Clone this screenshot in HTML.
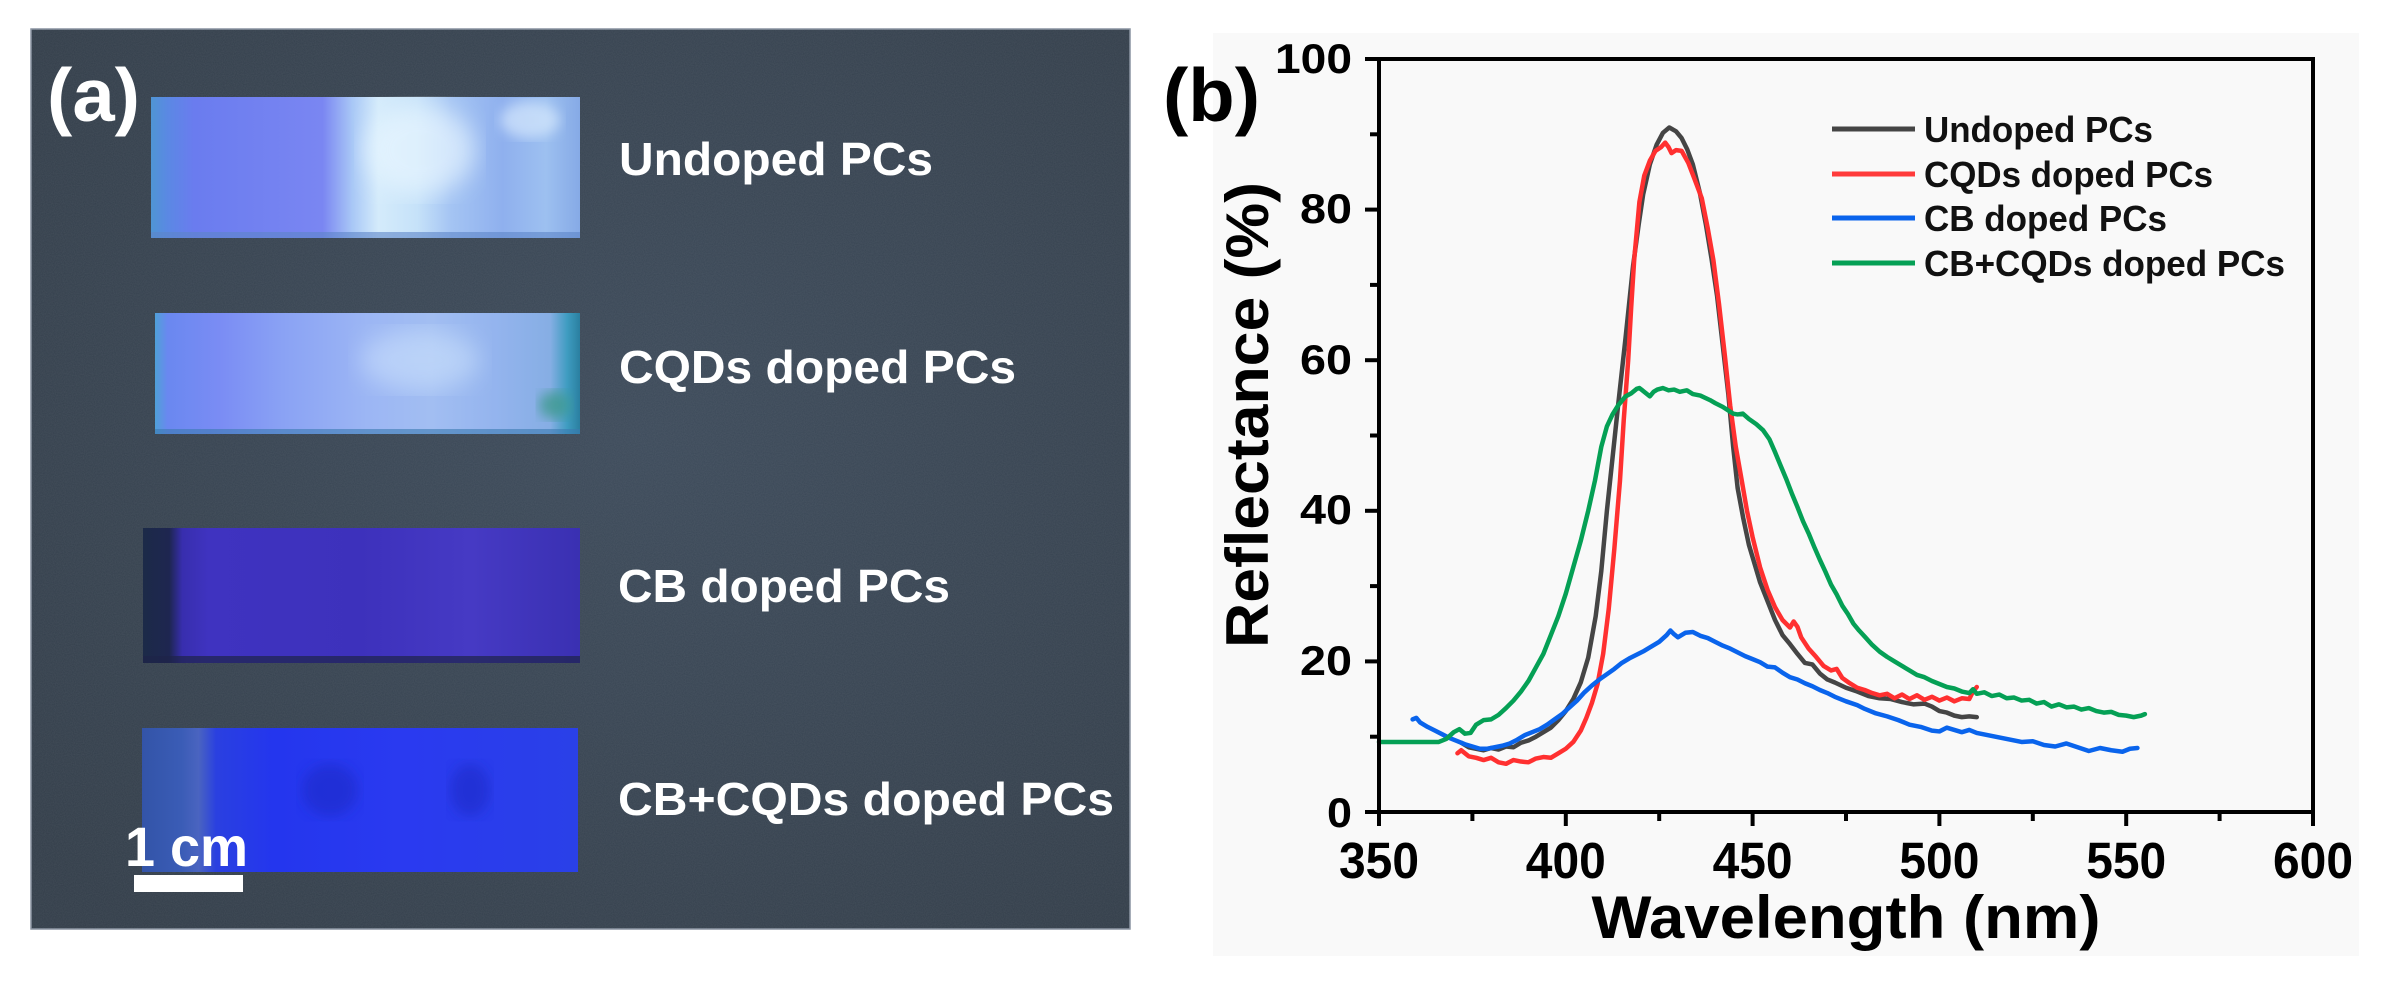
<!DOCTYPE html>
<html>
<head>
<meta charset="utf-8">
<style>
  html,body{margin:0;padding:0;background:#ffffff;}
  svg{display:block;}
  .b{font-family:"Liberation Sans",Arial,Helvetica,sans-serif;font-weight:bold;}
</style>
</head>
<body>
<svg width="2384" height="981" viewBox="0 0 2384 981" xmlns="http://www.w3.org/2000/svg">
  <defs>
    <radialGradient id="bg" cx="55%" cy="45%" r="70%">
      <stop offset="0%" stop-color="#3c4a5a"/>
      <stop offset="100%" stop-color="#323d49"/>
    </radialGradient>
    <filter id="noise" x="0" y="0" width="100%" height="100%">
      <feTurbulence type="fractalNoise" baseFrequency="0.9" numOctaves="2" seed="3" result="t"/>
      <feColorMatrix in="t" type="matrix" values="0 0 0 0 1  0 0 0 0 1  0 0 0 0 1  0 0 0 0.08 0"/>
    </filter>
    <filter id="blur6"><feGaussianBlur stdDeviation="6"/></filter>
    <filter id="blur12"><feGaussianBlur stdDeviation="12"/></filter>
    <linearGradient id="s1" x1="0" x2="1" y1="0" y2="0">
      <stop offset="0%" stop-color="#4f95d4"/>
      <stop offset="4%" stop-color="#5b88e4"/>
      <stop offset="10%" stop-color="#6a7cef"/>
      <stop offset="40%" stop-color="#7a86f2"/>
      <stop offset="47%" stop-color="#a9c8f6"/>
      <stop offset="53%" stop-color="#d4ebfb"/>
      <stop offset="62%" stop-color="#c6e2f9"/>
      <stop offset="70%" stop-color="#a4c4f3"/>
      <stop offset="82%" stop-color="#8fb0ee"/>
      <stop offset="92%" stop-color="#9dc0f0"/>
      <stop offset="100%" stop-color="#86aae6"/>
    </linearGradient>
    <linearGradient id="s2" x1="0" x2="1" y1="0" y2="0">
      <stop offset="0%" stop-color="#4fa0d8"/>
      <stop offset="3%" stop-color="#6a88f0"/>
      <stop offset="15%" stop-color="#7a8cf4"/>
      <stop offset="30%" stop-color="#8aa2f4"/>
      <stop offset="50%" stop-color="#9cb6f4"/>
      <stop offset="65%" stop-color="#a2bef2"/>
      <stop offset="80%" stop-color="#94b4ee"/>
      <stop offset="93%" stop-color="#86aee4"/>
      <stop offset="97%" stop-color="#3e9cc0"/>
      <stop offset="100%" stop-color="#2a7fa0"/>
    </linearGradient>
    <linearGradient id="s3" x1="0" x2="1" y1="0" y2="0">
      <stop offset="0%" stop-color="#1c2a48"/>
      <stop offset="6%" stop-color="#1e2650"/>
      <stop offset="9%" stop-color="#382eae"/>
      <stop offset="15%" stop-color="#3f33c0"/>
      <stop offset="50%" stop-color="#3d31bc"/>
      <stop offset="75%" stop-color="#463ac4"/>
      <stop offset="100%" stop-color="#3a30b2"/>
    </linearGradient>
    <linearGradient id="s4" x1="0" x2="1" y1="0" y2="0">
      <stop offset="0%" stop-color="#3354a8"/>
      <stop offset="9%" stop-color="#3a5cb6"/>
      <stop offset="13%" stop-color="#4a64c0"/>
      <stop offset="17%" stop-color="#2a40e0"/>
      <stop offset="30%" stop-color="#2436ee"/>
      <stop offset="60%" stop-color="#2a3af0"/>
      <stop offset="100%" stop-color="#2a40e8"/>
    </linearGradient>
  </defs>

  <!-- ================= Panel (a): photo ================= -->
  <rect x="31" y="29" width="1099" height="900" fill="url(#bg)" stroke="#8892a0" stroke-width="1.5"/>
  <rect x="31" y="29" width="1099" height="900" filter="url(#noise)"/>

  <!-- strip 1 -->
  <rect x="151" y="97" width="429" height="141" fill="url(#s1)"/>
  <ellipse cx="420" cy="150" rx="55" ry="45" fill="#e8f6ff" opacity="0.7" filter="url(#blur12)"/>
  <ellipse cx="530" cy="120" rx="30" ry="18" fill="#e0f0ff" opacity="0.6" filter="url(#blur6)"/>
  <rect x="151" y="232" width="429" height="6" fill="#5e86c8" opacity="0.6"/>
  <!-- strip 2 -->
  <rect x="155" y="313" width="425" height="121" fill="url(#s2)"/>
  <ellipse cx="420" cy="360" rx="60" ry="30" fill="#d8ecff" opacity="0.45" filter="url(#blur12)"/>
  <ellipse cx="555" cy="405" rx="16" ry="14" fill="#3d9a8e" opacity="0.8" filter="url(#blur6)"/>
  <rect x="155" y="429" width="425" height="5" fill="#3a7ab0" opacity="0.6"/>
  <!-- strip 3 -->
  <rect x="143" y="528" width="437" height="135" fill="url(#s3)"/>
  <rect x="143" y="656" width="437" height="7" fill="#1e2448" opacity="0.7"/>
  <!-- strip 4 -->
  <rect x="142" y="728" width="436" height="144" fill="url(#s4)"/>
  <ellipse cx="330" cy="790" rx="28" ry="26" fill="#1e2cc8" opacity="0.6" filter="url(#blur6)"/>
  <ellipse cx="470" cy="790" rx="20" ry="26" fill="#1e2cc8" opacity="0.6" filter="url(#blur6)"/>

  <!-- labels in photo -->
  <text class="b" x="47" y="121" font-size="75" fill="#ffffff" textLength="93" lengthAdjust="spacingAndGlyphs">(a)</text>
  <text class="b" x="619" y="175" font-size="46" fill="#ffffff" textLength="314" lengthAdjust="spacingAndGlyphs">Undoped PCs</text>
  <text class="b" x="619" y="383" font-size="46" fill="#ffffff" textLength="397" lengthAdjust="spacingAndGlyphs">CQDs doped PCs</text>
  <text class="b" x="618" y="602" font-size="46" fill="#ffffff" textLength="332" lengthAdjust="spacingAndGlyphs">CB doped PCs</text>
  <text class="b" x="618" y="815" font-size="46" fill="#ffffff" textLength="496" lengthAdjust="spacingAndGlyphs">CB+CQDs doped PCs</text>
  <text class="b" x="125" y="866" font-size="56" fill="#ffffff" textLength="123" lengthAdjust="spacingAndGlyphs">1 cm</text>
  <rect x="134" y="875" width="109" height="17" fill="#ffffff"/>

  <!-- ================= Panel (b): chart ================= -->
  <rect x="1213" y="33" width="1146" height="923" fill="#f9f9f9"/>
  <text class="b" x="1163" y="121" font-size="75" fill="#000" textLength="97" lengthAdjust="spacingAndGlyphs">(b)</text>

  <!-- curves (data coords: nm, %) -->
  <g transform="matrix(3.736,0,0,-7.53,71.4,812)" fill="none" stroke-linejoin="round" stroke-linecap="round">
    <polyline vector-effect="non-scaling-stroke" stroke="#454545" stroke-width="4.5" points="372,9.2 374,8.6 376,8.4 378,8.2 380,8.5 382,8.3 384,8.7 386,8.6 388,9.2 390,9.5 392,10 394,10.6 396,11.2 398,12.2 400,13.4 402,15 404,17.2 406,20.5 408,26 409.5,32 411,40 412.5,47 414,54 416,63 418,72.5 419.5,78 420.7,82 422.5,86 424.3,88.6 426,90.2 427.7,90.9 429.5,90.4 431,89.5 432.5,88 434,86 435.9,82.2 437.5,78 439,73.5 440.5,68.5 442,62 443.5,55.5 444.8,48.5 446,43 447.5,39 449,35.5 450.5,33 452,30.5 454,28 456,25.5 458,23.5 460,22.3 462,21 464,19.8 466,19.6 468,18.4 470,17.6 472,17.2 475,16.5 478,16 481,15.4 484,15.1 487,15 490,14.6 493,14.3 496,14.4 498,14 500,13.4 502,13.2 504,12.8 506,12.6 508,12.7 510,12.6"/>
    <polyline vector-effect="non-scaling-stroke" stroke="#ff3030" stroke-width="4.5" points="371,7.8 372,8.2 374,7.4 376,7.2 378,6.9 380,7.2 382,6.6 384,6.4 386,6.9 388,6.7 390,6.6 392,7.1 394,7.3 396,7.2 398,7.8 400,8.4 402,9.3 404,10.8 405.5,12.5 407,14.5 408.5,17 410,21 411.5,27 413,35 414.5,44 415.5,52 416.7,60 417.5,67 418.3,73.3 419.7,81 421,84.5 422.5,86.5 424,87.8 425.5,88.3 426.6,88.9 427.5,88.3 428.3,87.5 429.5,87.9 431,87.8 432.8,86.2 434.5,84 436.4,81.5 438,77.5 439.5,73.3 441,67.5 442.6,60.5 444,54 445.5,48.5 447.1,44 448.5,40 450,36.5 452,32.5 454,29.5 456,27.2 458,25.5 460,24.5 461,25.3 462,24.6 463,23.2 465,21.7 467,20.6 469,19.4 471,18.8 472.5,19 474,17.8 476,17.1 478,16.5 480,16.2 482,15.8 484,15.5 486,15.7 488,15.1 490,15.6 492,15 494,15.5 496,14.9 498,15.3 500,14.8 502,15.2 504,14.7 506,15.1 508,15 509,16 510,16.6"/>
    <polyline vector-effect="non-scaling-stroke" stroke="#0a64ec" stroke-width="4.5" points="359,12.3 360,12.5 361,11.9 363,11.3 365,10.8 367,10.3 369,9.8 371,9.4 373,9.0 375,8.7 377,8.4 379,8.4 381,8.6 383,8.8 385,9.1 387,9.6 389,10.2 391,10.6 393,11.0 395,11.6 397,12.3 399,13.0 401,13.9 403,14.8 405,15.9 407,16.8 409,17.6 411,18.3 413,19 415,19.8 417,20.4 419,20.9 421,21.4 423,22 425,22.6 427,23.5 428,24.1 429,23.6 430,23.2 432,23.8 434,23.9 436,23.4 438,23.1 440,22.6 442,22.1 444,21.7 446,21.2 448,20.7 450,20.3 452,19.9 454,19.3 456,19.2 458,18.5 460,17.9 462,17.6 464,17.1 466,16.7 468,16.2 470,15.8 472,15.3 475,14.7 478,14.2 480,13.7 483,13.1 486,12.7 489,12.2 492,11.6 495,11.3 498,10.8 500,10.7 502,11.2 504,10.9 506,10.6 508,10.9 510,10.5 513,10.2 516,9.9 519,9.6 522,9.3 525,9.4 528,8.9 531,8.7 534,9.1 537,8.6 540,8.1 543,8.5 546,8.2 549,8.0 551,8.4 553,8.5"/>
    <polyline vector-effect="non-scaling-stroke" stroke="#05a055" stroke-width="4.5" points="350,9.3 366,9.3 368,9.7 370,10.6 371.5,11 373,10.4 374.5,10.5 376,11.6 378,12.2 380,12.3 382,12.9 384,13.8 386,14.8 388,16 390,17.4 392,19.2 394,21 396,23.5 398,26 400,29 402,32.5 404,36 406,40 407.8,44 409.5,48.5 411,51.2 412.5,52.8 414,54 416,55.2 417.5,55.6 419,56.2 419.7,56.3 420.5,56 421.5,55.6 422.5,55.2 423.5,55.8 424.5,56.1 426,56.3 427.5,56 429,56.1 430.5,55.8 432.4,56 434,55.5 436,55.3 438.6,54.7 440,54.3 442,53.8 444.8,52.9 446,52.8 447.4,52.9 449,52.2 451,51.5 452.8,50.7 454.5,49.5 456,47.8 457.5,46 459.1,44.1 460.5,42.3 462,40.5 463.5,38.6 465,37 466.5,35.2 468,33.5 469.5,31.9 471,30.2 472.5,28.9 474,27.4 475.5,26.3 477,25 478.5,24.1 480,23.3 482,22.2 484,21.3 486,20.6 488,20 490,19.4 492,18.8 494,18.2 496,17.9 498,17.4 500,17 502,16.6 504,16.4 506,16 508,15.8 509,16.3 510,15.7 512,15.9 514,15.4 516,15.6 518,15.1 520,15.2 522,14.8 524,14.9 526,14.4 528,14.6 530,14 532,14.3 534,13.9 536,14 538,13.6 540,13.8 542,13.4 544,13.2 546,13.3 548,12.9 550,12.8 552,12.6 554,12.8 555,13"/>
  </g>

  <!-- axes box -->
  <rect x="1379" y="59" width="934" height="753" fill="none" stroke="#000" stroke-width="4"/>
  <g stroke="#000" stroke-width="4">
    <line x1="1365" y1="812" x2="1379" y2="812"/>
    <line x1="1365" y1="661.4" x2="1379" y2="661.4"/>
    <line x1="1365" y1="510.8" x2="1379" y2="510.8"/>
    <line x1="1365" y1="360.2" x2="1379" y2="360.2"/>
    <line x1="1365" y1="209.6" x2="1379" y2="209.6"/>
    <line x1="1365" y1="59" x2="1379" y2="59"/>
    <line x1="1370" y1="736.7" x2="1379" y2="736.7"/>
    <line x1="1370" y1="586.1" x2="1379" y2="586.1"/>
    <line x1="1370" y1="435.5" x2="1379" y2="435.5"/>
    <line x1="1370" y1="284.9" x2="1379" y2="284.9"/>
    <line x1="1370" y1="134.3" x2="1379" y2="134.3"/>
    <line x1="1379" y1="812" x2="1379" y2="826"/>
    <line x1="1565.8" y1="812" x2="1565.8" y2="826"/>
    <line x1="1752.6" y1="812" x2="1752.6" y2="826"/>
    <line x1="1939.4" y1="812" x2="1939.4" y2="826"/>
    <line x1="2126.2" y1="812" x2="2126.2" y2="826"/>
    <line x1="2313" y1="812" x2="2313" y2="826"/>
    <line x1="1472.4" y1="812" x2="1472.4" y2="821"/>
    <line x1="1659.2" y1="812" x2="1659.2" y2="821"/>
    <line x1="1846" y1="812" x2="1846" y2="821"/>
    <line x1="2032.8" y1="812" x2="2032.8" y2="821"/>
    <line x1="2219.6" y1="812" x2="2219.6" y2="821"/>
  </g>

  <g class="b" font-size="42" fill="#000" text-anchor="end">
    <text x="1352" y="827" textLength="25" lengthAdjust="spacingAndGlyphs">0</text>
    <text x="1352" y="675" textLength="52" lengthAdjust="spacingAndGlyphs">20</text>
    <text x="1352" y="524" textLength="52" lengthAdjust="spacingAndGlyphs">40</text>
    <text x="1352" y="374" textLength="52" lengthAdjust="spacingAndGlyphs">60</text>
    <text x="1352" y="223" textLength="52" lengthAdjust="spacingAndGlyphs">80</text>
    <text x="1352" y="73" textLength="77" lengthAdjust="spacingAndGlyphs">100</text>
  </g>
  <g class="b" font-size="51" fill="#000" text-anchor="middle">
    <text x="1379" y="878" textLength="80" lengthAdjust="spacingAndGlyphs">350</text>
    <text x="1565.8" y="878" textLength="80" lengthAdjust="spacingAndGlyphs">400</text>
    <text x="1752.6" y="878" textLength="80" lengthAdjust="spacingAndGlyphs">450</text>
    <text x="1939.4" y="878" textLength="80" lengthAdjust="spacingAndGlyphs">500</text>
    <text x="2126.2" y="878" textLength="80" lengthAdjust="spacingAndGlyphs">550</text>
    <text x="2313" y="878" textLength="80" lengthAdjust="spacingAndGlyphs">600</text>
  </g>

  <text class="b" x="1846" y="938" font-size="60" fill="#000" text-anchor="middle" textLength="509" lengthAdjust="spacingAndGlyphs">Wavelength (nm)</text>
  <text class="b" transform="translate(1268,415) rotate(-90)" x="0" y="0" font-size="60" fill="#000" text-anchor="middle" textLength="466" lengthAdjust="spacingAndGlyphs">Reflectance (%)</text>

  <g stroke-width="5" stroke-linecap="butt">
    <line x1="1832" y1="129" x2="1915" y2="129" stroke="#454545"/>
    <line x1="1832" y1="174" x2="1915" y2="174" stroke="#ff3b3b"/>
    <line x1="1832" y1="218" x2="1915" y2="218" stroke="#0a64ec"/>
    <line x1="1832" y1="263" x2="1915" y2="263" stroke="#05a055"/>
  </g>
  <g class="b" font-size="36" fill="#111">
    <text x="1924" y="142" textLength="229" lengthAdjust="spacingAndGlyphs">Undoped PCs</text>
    <text x="1924" y="187" textLength="289" lengthAdjust="spacingAndGlyphs">CQDs doped PCs</text>
    <text x="1924" y="231" textLength="243" lengthAdjust="spacingAndGlyphs">CB doped PCs</text>
    <text x="1924" y="276" textLength="361" lengthAdjust="spacingAndGlyphs">CB+CQDs doped PCs</text>
  </g>
</svg>
</body>
</html>
